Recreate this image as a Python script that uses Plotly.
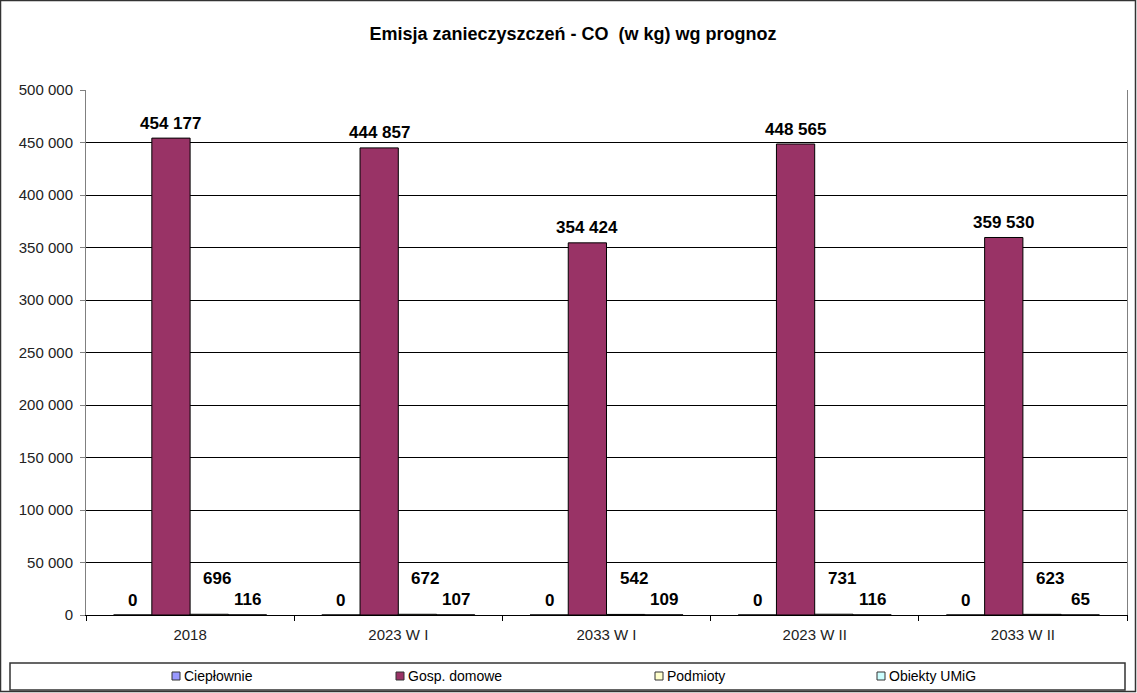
import plotly.graph_objects as go

categories = ["2018", "2023 W I", "2033 W I", "2023 W II", "2033 W II"]
series_names = ["Ciepłownie", "Gosp. domowe", "Podmioty", "Obiekty UMiG"]
cieplownie = [0, 0, 0, 0, 0]
gosp_domowe = [454177, 444857, 354424, 448565, 359530]
podmioty = [696, 672, 542, 731, 623]
obiekty_umig = [116, 107, 109, 116, 65]
colors = ["#9999FF", "#993366", "#FFFFCC", "#CCFFFF"]

series = [cieplownie, gosp_domowe, podmioty, obiekty_umig]

W, H = 1137, 693
L, R, T, B = 86, 10, 90, 78
pw, ph = W - L - R, H - T - B
FONT = "Liberation Sans, Arial, sans-serif"

def px_x(px):
    return (px - L) / pw

def px_y(py):
    return 1 - (py - T) / ph

fig = go.Figure()
for name, vals, col in zip(series_names, series, colors):
    fig.add_trace(go.Bar(
        x=categories, y=vals, name=name, showlegend=False,
        marker=dict(color=col, line=dict(color="black", width=1)),
    ))

def fmt(v):
    return f"{v:,}".replace(",", " ")

bar_px = pw / 5 * (1 - 0.265) / 4
annotations = []
for si, vals in enumerate(series):
    for ci, v in enumerate(vals):
        xs = (si - 1.5) * bar_px
        ys = 15
        if si == 2:
            ys = 36
            xs += 8
        annotations.append(dict(
            x=ci, y=v, xref="x", yref="y", text=fmt(v),
            showarrow=False, xshift=xs, yshift=ys, yanchor="middle",
            font=dict(family=FONT, size=17, color="black", weight="bold"),
        ))

shapes = [
    # outer chart border
    dict(type="rect", xref="paper", yref="paper",
         x0=px_x(0.5), x1=px_x(W - 1.5), y0=px_y(H - 1.5), y1=px_y(0.5),
         line=dict(color="#333333", width=1.5), layer="below"),
    # legend box
    dict(type="rect", xref="paper", yref="paper",
         x0=px_x(10), x1=px_x(1125), y0=px_y(690), y1=px_y(663),
         line=dict(color="#333333", width=1.5)),
]

# manual legend (layout positions)
legend_text_x = [182, 406, 665, 887]
legend_y = 676
for name, col, tx in zip(series_names, colors, legend_text_x):
    shapes.append(dict(type="rect", xref="paper", yref="paper",
                       x0=px_x(tx - 10), x1=px_x(tx - 2),
                       y0=px_y(legend_y + 4), y1=px_y(legend_y - 4),
                       fillcolor=col, line=dict(color="#333333", width=1)))
    annotations.append(dict(x=px_x(tx), y=px_y(legend_y), xref="paper", yref="paper",
                            text=name, showarrow=False, xanchor="left", yanchor="middle",
                            font=dict(family=FONT, size=14, color="black")))

fig.update_layout(
    width=W, height=H,
    margin=dict(l=L, r=R, t=T, b=B),
    paper_bgcolor="white", plot_bgcolor="white",
    separators=", ",
    barmode="group", bargap=0.265, bargroupgap=0,
    font=dict(family=FONT, size=15, color="black"),
    title=dict(text="<b>Emisja zanieczyszczeń - CO  (w kg) wg prognoz</b>",
               x=573 / W, xref="container", xanchor="center",
               y=1 - 34 / H, yref="container", yanchor="middle",
               font=dict(size=18, color="black")),
    xaxis=dict(type="category", range=[-0.5, 4.5], showline=True, linecolor="black", linewidth=1,
               ticks="outside", tickson="boundaries", ticklen=5, tickcolor="black",
               showgrid=False, mirror=False, tickangle=0, ticklabelstandoff=6,
               tickfont=dict(color="#222222")),
    yaxis=dict(range=[0, 500000], dtick=50000, tickformat=",d",
               showgrid=True, gridcolor="black", gridwidth=1,
               showline=True, linecolor="#808080", linewidth=1, mirror=True,
               ticks="outside", ticklen=5, tickcolor="#808080", zeroline=False,
               ticklabelstandoff=4, tickfont=dict(color="#222222")),
    showlegend=False,
    annotations=annotations,
    shapes=shapes,
)

fig.write_html("out.html", config={"displayModeBar": False},
               post_script="document.body.style.margin='0';document.body.style.overflow='hidden';")
